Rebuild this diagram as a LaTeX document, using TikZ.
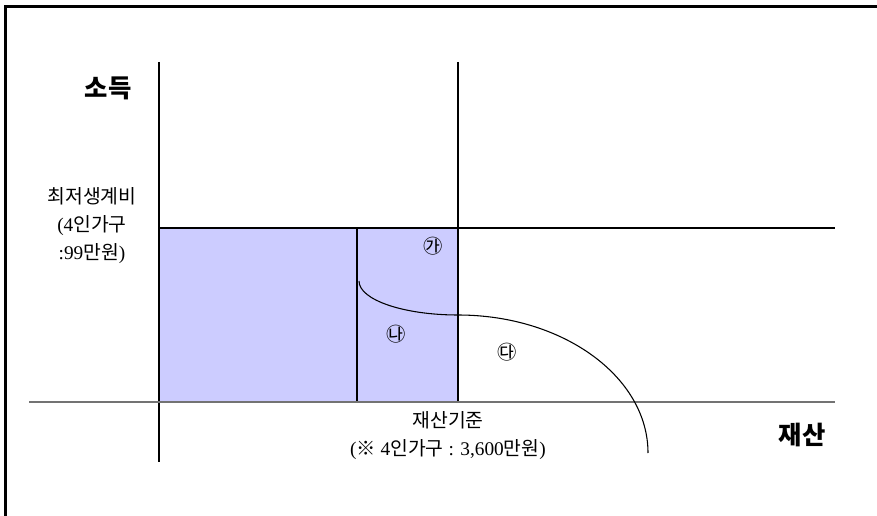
\documentclass[tikz,border=0pt]{standalone}
\usepackage{fontspec}
\setmainfont{Liberation Serif}
\newfontfamily\kr{Noto Sans CJK KR}
\usetikzlibrary{positioning}
\definecolor{zoneBlue}{RGB}{204, 204, 255}
\definecolor{axisGray}{RGB}{115, 115, 115}

\begin{document}
\begin{tikzpicture}[x=0.75pt, y=-0.75pt,
          grid/.style={draw=black, line width=0.8pt},
          axis/.style={draw=axisGray, line width=1.3pt},
          lbl/.style={font=\fontsize{14.5}{21}\selectfont, align=center, inner sep=0pt},
          ttl/.style={font=\kr\bfseries\fontsize{19}{22}\selectfont, inner sep=0pt},
          zonemark/.style={font=\kr\fontsize{14.5}{16}\selectfont, inner sep=0pt}
        ]
        \useasboundingbox (0,0) rectangle (877,516);
        % corners of the grid
        \coordinate (O)    at (159,402);
        \coordinate (ytop) at (159,62);
        \coordinate (ybot) at (159,462);
        \coordinate (xl)   at (29,402);
        \coordinate (xr)   at (835,402);
        \coordinate (lim)  at (159,228);
        \coordinate (limr) at (835,228);
        \coordinate (ast)  at (458,402);
        \coordinate (astt) at (458,62);
        \coordinate (mid)  at (357,402);
        \coordinate (midt) at (357,228);

        \fill[zoneBlue] (lim) rectangle (ast);
        \draw[grid] (ytop) -- (ybot);
        \draw[grid] (astt) -- (ast);
        \draw[grid] (midt) -- (mid);
        \draw[grid] (lim) -- (limr);
        \draw[axis] (xl) -- (xr);

        % boundary curve
        \draw[line width=0.8pt] (359,281) arc[start angle=180, end angle=90, x radius=99, y radius=34]
              coordinate (knee)
              arc[start angle=270, end angle=360, x radius=190, y radius=138];

        % outer frame
        \draw[line width=2.4pt] (5.5,530) |- (890,6.5);

        \node[ttl] (inc)  at (108,88)  {소득};
        \node[ttl] (prop) at (802,435) {재산};
        \node[lbl] (minc) at (92,226)
              {{\kr 최저생계비}\\(4{\kr 인가구}\\:99{\kr 만원})};
        \node[lbl] (pstd) at (448,436)
              {{\kr 재산기준}\\({\kr ※} 4{\kr 인가구} : 3,600{\kr 만원})};
        \node[zonemark] (ga) at (433,246) {㉮};
        \node[zonemark] (na) at (396,334) {㉯};
        \node[zonemark] (da) at (507,352) {㉰};
      \end{tikzpicture}
\end{document}
